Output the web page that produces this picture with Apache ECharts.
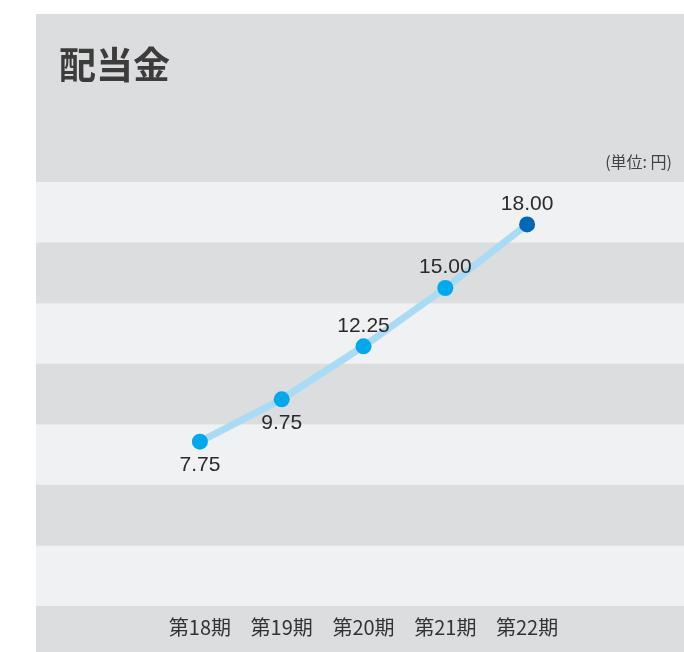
<!DOCTYPE html>
<html>
<head>
<meta charset="utf-8">
<script src="https://cdn.jsdelivr.net/npm/echarts@6/dist/echarts.min.js"></script>
<style>
html,body{margin:0;padding:0;background:#fff;}
#chart{width:684px;height:652px;}
</style>
</head>
<body>
<div id="chart"></div>
<script>
var categories = ['第18期', '第19期', '第20期', '第21期', '第22期'];
var dividends = [7.75, 9.75, 12.25, 15.00, 18.00];
var titleText = '配当金';
var unitText = '(単位: 円)';

var chart = echarts.init(document.getElementById('chart'));
var seriesData = dividends.map(function (v, i) {
  var isLast = i === dividends.length - 1;
  var below = i < 2;
  return {
    value: v,
    itemStyle: { color: isLast ? '#0068b7' : '#00a8ec' },
    label: { position: below ? 'bottom' : 'top', distance: below ? 5 : 2 }
  };
});

var option = {
  backgroundColor: '#ffffff',
  animation: false,
  graphic: [{
    type: 'rect', left: 36, top: 14, z: -10,
    shape: { width: 648, height: 638 },
    style: { fill: '#dcdddf' }
  }],
  title: [{
    text: titleText, left: 54, top: 41,
    textStyle: { fontSize: 37, fontWeight: 'bold', color: '#3c3c3c', fontFamily: 'Noto Sans CJK JP' }
  }, {
    text: unitText, right: 7, top: 149,
    textStyle: { fontSize: 16, fontWeight: 'normal', color: '#444', fontFamily: 'Noto Sans CJK JP' }
  }],
  grid: [
    { left: 36, right: 0, top: 182, bottom: 46 },
    { left: 159, right: 116, top: 182, bottom: 46 }
  ],
  xAxis: [
    { gridIndex: 0, type: 'value', show: false, min: 0, max: 1 },
    {
      gridIndex: 1, type: 'category', data: categories, boundaryGap: true,
      axisLine: { show: false }, axisTick: { show: false },
      axisLabel: { color: '#333', fontSize: 20, margin: 11, fontFamily: 'Noto Sans CJK JP' }
    }
  ],
  yAxis: [
    {
      gridIndex: 0, type: 'value', min: 0, max: 7, interval: 1,
      axisLine: { show: false }, axisTick: { show: false }, axisLabel: { show: false },
      splitLine: { show: false },
      splitArea: { show: true, areaStyle: { color: ['#f0f1f3', '#dcdddf'] } }
    },
    {
      gridIndex: 1, type: 'value', min: 0, max: 20, show: false,
      splitLine: { show: false }
    }
  ],
  series: [{
    type: 'line', xAxisIndex: 1, yAxisIndex: 1,
    data: seriesData,
    symbol: 'circle', symbolSize: 16,
    lineStyle: { color: '#a9dcf4', width: 7 },
    label: {
      show: true, fontSize: 21, color: '#2a2a2a',
      fontFamily: 'Liberation Sans',
      formatter: function (p) { return p.value.toFixed(2); }
    },
    z: 5
  }]
};
chart.setOption(option);
</script>
</body>
</html>
